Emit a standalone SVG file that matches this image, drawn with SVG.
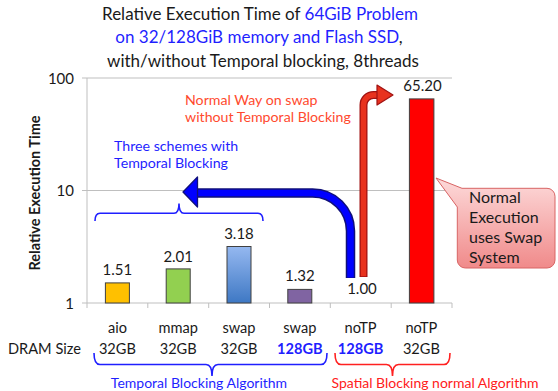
<svg xmlns="http://www.w3.org/2000/svg" width="558" height="391" viewBox="0 0 558 391">
<defs>
<linearGradient id="gBlue" x1="0" y1="0" x2="0" y2="1"><stop offset="0" stop-color="#95B8F0"/><stop offset="1" stop-color="#3E78C4"/></linearGradient>
<linearGradient id="gPink" x1="0" y1="0" x2="0" y2="1"><stop offset="0" stop-color="#FDDADA"/><stop offset="1" stop-color="#F08A8A"/></linearGradient>
<style>
text{font-family:Lato,"Liberation Sans",sans-serif;fill:#1a1a1a}
.t{font-size:17px}
.b{fill:#1f1fff}
.v{font-size:15px;text-anchor:middle}
.c{font-size:14.6px;text-anchor:middle}
.n{font-size:14px}
.grid{stroke:#BFBFBF;stroke-width:1;fill:none}
.bar{stroke:#404040;stroke-width:1}
.brB{stroke:#1f1fff;stroke-width:1.6;fill:none}
.brR{stroke:#ff2020;stroke-width:1.6;fill:none}
</style>
</defs>
<rect width="558" height="391" fill="#fff"/>
<g id="title" class="t" text-anchor="middle">
<text x="260" y="20">Relative Execution Time of <tspan class="b">64GiB Problem</tspan></text>
<text x="259" y="43"><tspan class="b">on 32/128GiB memory and Flash SSD</tspan>,</text>
<text x="263" y="67">with/without Temporal blocking, 8threads</text>
</g>
<g id="axes">
<path class="grid" d="M82,78H452M82,190.5H452M82,303H452M87,78V308M147.8,303V308M208.7,303V308M269.5,303V308M330.3,303V308M391.2,303V308M452,303V308"/>
<text x="74" y="84" font-size="15" text-anchor="end">100</text>
<text x="74" y="196" font-size="15" text-anchor="end">10</text>
<text x="74" y="309" font-size="15" text-anchor="end">1</text>
<text transform="translate(40,193) rotate(-90)" font-size="14.5" font-weight="bold" text-anchor="middle">Relative Execution Time</text>
</g>
<g id="bars">
<rect class="bar" x="105.4" y="282.9" width="24" height="20.1" fill="#FFC000"/>
<rect class="bar" x="166.2" y="268.9" width="24" height="34.1" fill="#92D050"/>
<rect class="bar" x="227" y="246.5" width="24" height="56.5" fill="url(#gBlue)"/>
<rect class="bar" x="287.8" y="289.4" width="24" height="13.6" fill="#8064A2"/>
<rect class="bar" x="409.4" y="98.9" width="24.5" height="204.1" fill="#FF0000"/>
</g>
<g id="values" class="v">
<text x="117.4" y="275">1.51</text>
<text x="178.2" y="262">2.01</text>
<text x="239" y="239">3.18</text>
<text x="299.8" y="281">1.32</text>
<text x="362" y="294">1.00</text>
<text x="422.5" y="91">65.20</text>
</g>
<g id="categories" class="c">
<text x="117.4" y="333">aio</text>
<text x="178.2" y="333">mmap</text>
<text x="239" y="333">swap</text>
<text x="299.8" y="333">swap</text>
<text x="360.6" y="333">noTP</text>
<text x="421.4" y="333">noTP</text>
<text x="117.4" y="354">32GB</text>
<text x="178.2" y="354">32GB</text>
<text x="239" y="354">32GB</text>
<text x="299.8" y="354" font-weight="bold" class="b">128GB</text>
<text x="360.6" y="354" font-weight="bold" class="b">128GB</text>
<text x="421.4" y="354">32GB</text>
<text x="8" y="354" text-anchor="start">DRAM Size</text>
</g>
<g id="connectors">
<path d="M350.5,278V231A38,38 0 0 0 312.5,193H196" fill="none" stroke="#10107a" stroke-width="9.5"/>
<path d="M350.5,277.5V231A38,38 0 0 0 312.5,193H195" fill="none" stroke="#0000FF" stroke-width="6.5"/>
<polygon points="183,192 197.5,177 197.5,207" fill="#0000FF" stroke="#10107a" stroke-width="1.3" stroke-linejoin="round"/>
<path d="M363.5,277V105A10,10 0 0 1 373.5,95H378" fill="none" stroke="#A01212" stroke-width="8"/>
<path d="M363.5,276.3V105A10,10 0 0 1 373.5,95H379" fill="none" stroke="#E8321E" stroke-width="5.5"/>
<polygon points="377,85 393,95 377,105" fill="#E8321E" stroke="#A01212" stroke-width="1.2" stroke-linejoin="round"/>
</g>
<g id="brace-top">
<path class="brB" d="M95,221Q95,213.3 100,213.3H174Q179,213.3 179,203.5Q179,213.3 184,213.3H258Q263,213.3 263,221"/>
<text class="b" font-size="14.2" x="114" y="151">Three schemes with</text>
<text class="b" font-size="14.2" x="114" y="168">Temporal Blocking</text>
</g>
<g id="label-normal-way">
<text font-size="14.2" x="185" y="105" style="fill:#FF4A2E">Normal Way on swap</text>
<text font-size="14.2" x="185" y="122" style="fill:#FF4A2E">without Temporal Blocking</text>
</g>
<g id="callout">
<path d="M436,178L462,188.3H547A8,8 0 0 1 555,196.3V260A8,8 0 0 1 547,268H465.3A8,8 0 0 1 457.3,260V207Z" fill="url(#gPink)" stroke="#D86464" stroke-width="1"/>
<text x="469" y="203" font-size="16">Normal</text>
<text x="469" y="223" font-size="16">Execution</text>
<text x="469" y="243" font-size="16">uses Swap</text>
<text x="469" y="263" font-size="16">System</text>
</g>
<g id="brace-temporal">
<path class="brB" d="M94,353Q94,364.5 100,364.5H206Q212,364.5 212,376Q212,364.5 218,364.5H321Q327,364.5 327,353"/>
<text class="n b" x="199" y="387.5" text-anchor="middle">Temporal Blocking Algorithm</text>
</g>
<g id="brace-spatial">
<path class="brR" d="M335,353Q335,364.5 341,364.5H386.5Q392.5,364.5 392.5,376Q392.5,364.5 398.5,364.5H444Q450,364.5 450,353"/>
<text class="n" x="435" y="387.5" text-anchor="middle" style="fill:#FF2020">Spatial Blocking normal Algorithm</text>
</g>
</svg>
